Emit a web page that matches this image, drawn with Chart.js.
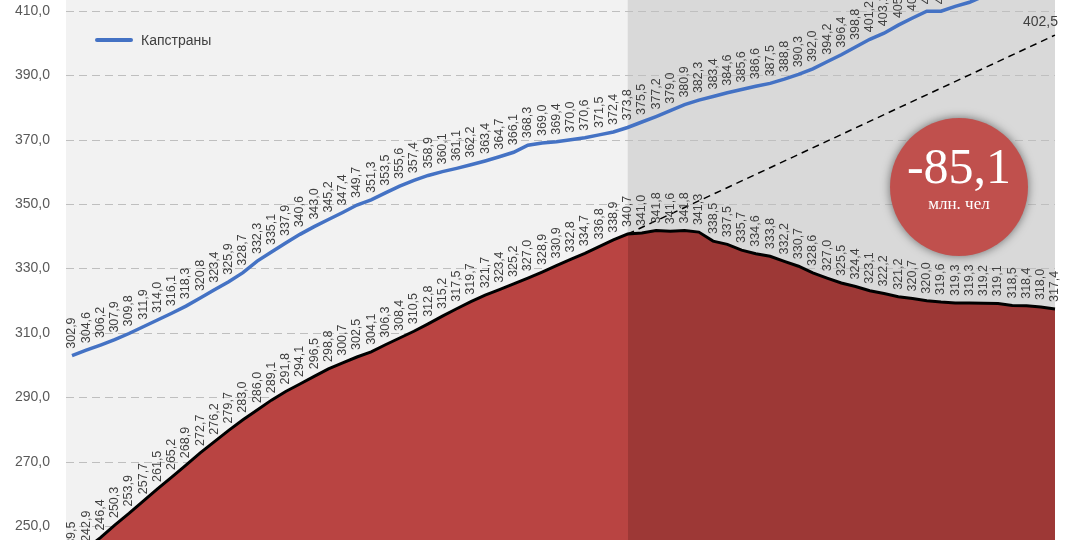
<!DOCTYPE html>
<html><head><meta charset="utf-8">
<script src="https://cdn.jsdelivr.net/npm/chart.js@4"></script>
<style>
body{margin:0;width:1080px;height:540px;overflow:hidden;background:#fff;font-family:"Liberation Sans",sans-serif}
#wrap{position:relative;width:1080px;height:540px}
#leg{position:absolute;left:95px;top:32px;font-size:14px;color:#404040;display:flex;align-items:center}
#leg span{display:inline-block;width:38px;height:4px;background:#4472c4;margin-right:8px;border-radius:2px}
#badge{position:absolute;left:890px;top:118px;width:138px;height:138px;border-radius:50%;background:#c0504d;box-shadow:0 0 10px rgba(0,0,0,.5);color:#fff;text-align:center;font-family:"Liberation Serif",serif}
#badge .b{font-size:50px;margin-top:22px;line-height:52px}
#badge .s{font-size:17px;margin-top:2px}
</style></head><body>
<div id="wrap"><canvas id="c" width="1080" height="540"></canvas>
<div id="leg"><span></span>Капстраны</div>
<div id="badge"><div class="b">-85,1</div><div class="s">млн. чел</div></div></div>
<script>
const blueVals=[302.9,304.6,306.2,307.9,309.8,311.9,314.0,316.1,318.3,320.8,323.4,325.9,328.7,332.3,335.1,337.9,340.6,343.0,345.2,347.4,349.7,351.3,353.5,355.6,357.4,358.9,360.1,361.1,362.2,363.4,364.7,366.1,368.3,369.0,369.4,370.0,370.6,371.5,372.4,373.8,375.5,377.2,379.0,380.9,382.3,383.4,384.6,385.6,386.6,387.5,388.8,390.3,392.0,394.2,396.4,398.8,401.2,403.1,405.6,407.8,409.9,409.9,411.4,412.7,414.6,416.3,418.0,419.6,421.2,422.8];
const redVals=[239.5,242.9,246.4,250.3,253.9,257.7,261.5,265.2,268.9,272.7,276.2,279.7,283.0,286.0,289.1,291.8,294.1,296.5,298.8,300.7,302.5,304.1,306.3,308.4,310.5,312.8,315.2,317.5,319.7,321.7,323.4,325.2,327.0,328.9,330.9,332.8,334.7,336.8,338.9,340.7,341.0,341.8,341.6,341.8,341.3,338.5,337.5,335.7,334.6,333.8,332.2,330.7,328.6,327.0,325.5,324.4,323.1,322.2,321.2,320.7,320.0,319.6,319.3,319.3,319.2,319.1,318.5,318.4,318.0,317.4];
const trendStart=39, trendStartVal=340.7, trendEndVal=402.5;
const yTicks=[250,270,290,310,330,350,370,390,410];
const labels=redVals.map((_,i)=>i);
const trend=labels.map(i=>i===trendStart?trendStartVal:(i===labels.length-1?trendEndVal:null));
const fmt=v=>v.toFixed(1).replace('.',',');
const split=trendStart;
const bgPlugin={id:'bg',beforeDatasetsDraw(ch){const {ctx,chartArea:a,scales:{x,y}}=ch;const xs=x.getPixelForValue(split);
ctx.save();ctx.fillStyle='#f2f2f2';ctx.fillRect(66,a.top,xs-66,a.bottom-a.top);ctx.fillStyle='#d9d9d9';ctx.fillRect(xs,a.top,a.right-xs,a.bottom-a.top);
ctx.strokeStyle='#bfbfbf';ctx.setLineDash([8,5]);ctx.lineWidth=1;
ctx.font='14px "Liberation Sans"';ctx.textAlign='right';ctx.textBaseline='middle';
yTicks.forEach(t=>{const p=Math.round(y.getPixelForValue(t))+.5;ctx.beginPath();ctx.moveTo(66,p);ctx.lineTo(a.right,p);ctx.stroke();ctx.fillStyle='#595959';ctx.fillText(fmt(t),50,p);});ctx.restore();}};
const lblPlugin={id:'lbl',afterDatasetsDraw(ch){const {ctx}=ch;ctx.save();ctx.font='12.5px "Liberation Sans"';ctx.fillStyle='#404040';ctx.textAlign='left';ctx.textBaseline='middle';
[0,1].forEach(di=>{const m=ch.getDatasetMeta(di);const vals=ch.data.datasets[di].data;m.data.forEach((p,i)=>{ctx.save();ctx.translate(p.x,p.y-7);ctx.rotate(-Math.PI/2);ctx.fillText(fmt(vals[i]),0,0);ctx.restore();});});
const m=ch.getDatasetMeta(2);const p=m.data[labels.length-1];ctx.font='14px "Liberation Sans"';ctx.textAlign='right';ctx.textBaseline='bottom';ctx.fillText(fmt(trendEndVal),p.x+3,p.y-6);ctx.restore();}};
new Chart(document.getElementById('c'),{type:'line',
data:{labels,datasets:[
{data:blueVals,borderColor:'#4472c4',borderWidth:3.5,pointRadius:0,fill:false,tension:0},
{data:redVals,borderColor:'#000',borderWidth:3,pointRadius:0,tension:0,fill:'start',
 backgroundColor:(c)=>{const ch=c.chart;const a=ch.chartArea;if(!a)return '#b94442';const xs=ch.scales.x.getPixelForValue(split);const g=ch.ctx.createLinearGradient(a.left,0,a.right,0);const f=(xs-a.left)/(a.right-a.left);g.addColorStop(0,'#b94442');g.addColorStop(f,'#b94442');g.addColorStop(f,'#9d3836');g.addColorStop(1,'#9d3836');return g;}},
{data:trend,borderColor:'#000',borderWidth:1.5,borderDash:[7,5],pointRadius:0,spanGaps:true,fill:false}
]},
options:{responsive:false,animation:false,layout:{padding:{top:0,right:25,bottom:0,left:72}},
plugins:{legend:{display:false},tooltip:{enabled:false}},
scales:{x:{display:false,offset:false},
y:{display:false,min:245.65,max:413.4}}},
plugins:[bgPlugin,lblPlugin]});
</script></body></html>
